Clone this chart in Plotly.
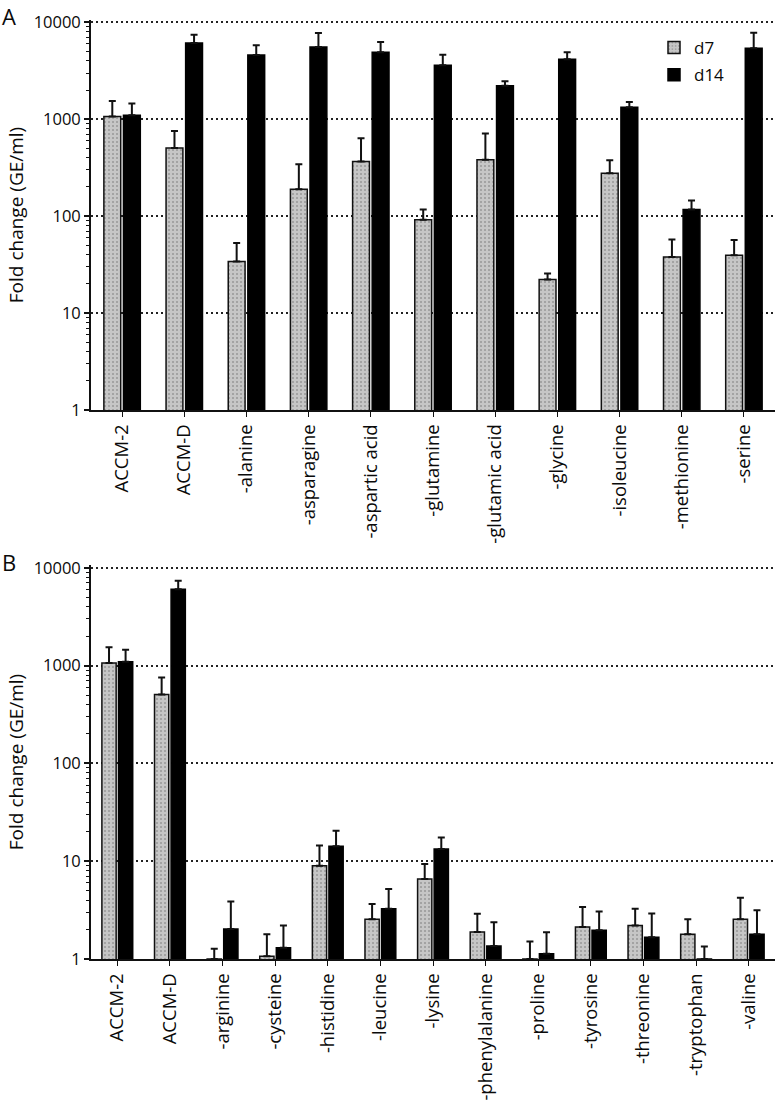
import plotly.graph_objects as go

# ---- Data (panel A) ----
cats_a = ["ACCM-2", "ACCM-D", "-alanine", "-asparagine", "-aspartic acid", "-glutamine",
          "-glutamic acid", "-glycine", "-isoleucine", "-methionine", "-serine"]
d7_a = [1065, 506, 34, 190, 366, 92, 381, 22.2, 277, 37.8, 39.6]
d7_a_top = [1545, 757, 52.7, 343, 637, 117, 711, 25.6, 378, 57.5, 56.6]
d14_a = [1100, 6120, 4600, 5570, 4910, 3600, 2220, 4160, 1330, 117, 5390]
d14_a_top = [1450, 7460, 5790, 7770, 6270, 4640, 2460, 4910, 1510, 145, 7820]

# ---- Data (panel B) ----
cats_b = ["ACCM-2", "ACCM-D", "-arginine", "-cysteine", "-histidine", "-leucine", "-lysine",
          "-phenylalanine", "-proline", "-tyrosine", "-threonine", "-tryptophan", "-valine"]
d7_b = [1061, 506, 1.0, 1.07, 9.0, 2.55, 6.56, 1.89, 1.0, 2.13, 2.2, 1.79, 2.55]
d7_b_top = [1535, 757, 1.27, 1.79, 14.5, 3.66, 9.35, 2.9, 1.51, 3.41, 3.26, 2.55, 4.23]
d14_b = [1095, 6040, 2.03, 1.3, 14.2, 3.26, 13.3, 1.36, 1.13, 1.97, 1.67, 1.0, 1.79]
d14_b_top = [1453, 7360, 3.87, 2.2, 20.5, 5.2, 17.5, 2.38, 1.88, 3.06, 2.92, 1.34, 3.15]

y_ticks = [1, 10, 100, 1000, 10000]
y_ticktext = ["1", "10", "100", "1000", "10000"]
minor_vals = [m * 10 ** e for e in range(0, 4) for m in range(2, 10)]

FONT = "Open Sans"
TXT = "#0a0a0a"

W, H = 776, 1101
L, R = 91, 1
PW = W - L - R


def ydom(top_px, bot_px):
    return [1 - bot_px / H, 1 - top_px / H]


gray_pattern = dict(shape=".", fgcolor="#6a6a6a", bgcolor="#c6c6c6", size=4, solidity=0.2)

fig = go.Figure()


def add_panel(cats, d7, d7top, d14, d14top, xa, ya, legend):
    fig.add_trace(go.Bar(
        x=cats, y=d7, name="d7", xaxis=xa, yaxis=ya, showlegend=legend, legendgroup="d7",
        marker=dict(color="#c6c6c6", pattern=gray_pattern, line=dict(color="#111", width=1.5)),
        error_y=dict(type="data", symmetric=False,
                     array=[t - v for t, v in zip(d7top, d7)],
                     arrayminus=[0] * len(d7), color="#111", thickness=2, width=3.5),
    ))
    fig.add_trace(go.Bar(
        x=cats, y=d14, name="d14", xaxis=xa, yaxis=ya, showlegend=legend, legendgroup="d14",
        marker=dict(color="#000000", line=dict(color="#000", width=1.5)),
        error_y=dict(type="data", symmetric=False,
                     array=[t - v for t, v in zip(d14top, d14)],
                     arrayminus=[0] * len(d14), color="#111", thickness=2, width=3.5),
    ))


add_panel(cats_a, d7_a, d7_a_top, d14_a, d14_a_top, "x", "y", True)
add_panel(cats_b, d7_b, d7_b_top, d14_b, d14_b_top, "x2", "y2", False)

yaxis_common = dict(
    type="log", tickvals=y_ticks, ticktext=y_ticktext,
    showgrid=True, gridcolor="#222", griddash="2px,3px", gridwidth=1.6,
    showline=True, linecolor="#111", linewidth=1.8,
    ticks="outside", ticklen=5, tickwidth=1.6, tickcolor="#111",
    minor=dict(tickvals=minor_vals, ticks="outside", ticklen=3, tickwidth=1.2, tickcolor="#111", showgrid=False),
    tickfont=dict(family=FONT, size=16.5, color=TXT),
    title=dict(text="Fold change (GE/ml)", font=dict(family=FONT, size=19, color=TXT), standoff=5),
    zeroline=False, automargin=False,
)
xaxis_common = dict(
    type="category", showline=True, linecolor="#111", linewidth=1.8,
    ticks="outside", ticklen=5, tickwidth=1.4, tickcolor="#111",
    tickangle=-90, tickfont=dict(family=FONT, size=18.5, color=TXT),
    showgrid=False, zeroline=False, automargin=False,
)

fig.update_layout(
    width=W, height=H,
    margin=dict(l=L, r=R, t=0, b=0, autoexpand=False),
    paper_bgcolor="white", plot_bgcolor="white",
    barmode="group", bargap=0.37, bargroupgap=0.14,
    font=dict(family=FONT, color=TXT),
    xaxis=dict(xaxis_common, anchor="y", domain=[0, 1]),
    yaxis=dict(yaxis_common, anchor="x", domain=ydom(20, 410), range=[0, 4.024]),
    xaxis2=dict(xaxis_common, anchor="y2", domain=[0, 1]),
    yaxis2=dict(yaxis_common, anchor="x2", domain=ydom(565, 959), range=[0, 4.028]),
    legend=dict(x=(654 - L) / PW, y=1 - 30 / H, xanchor="left", yanchor="top", bgcolor="rgba(0,0,0,0)",
                font=dict(family=FONT, size=17, color=TXT), itemwidth=30, tracegroupgap=2),
    annotations=[
        dict(text="A", x=(1 - L) / PW, y=1 - 0.5 / H, xref="paper", yref="paper", xanchor="left",
             yanchor="top", showarrow=False, borderpad=0, font=dict(family=FONT, size=22, color=TXT)),
        dict(text="B", x=(1 - L) / PW, y=1 - 546 / H, xref="paper", yref="paper", xanchor="left",
             yanchor="top", showarrow=False, borderpad=0, font=dict(family=FONT, size=22, color=TXT)),
    ],
)

# remove the default 8px page margin so the figure sits at the window's corner
fig.write_html("out.html", config={"displayModeBar": False},
               post_script="document.body.style.margin='0';")
